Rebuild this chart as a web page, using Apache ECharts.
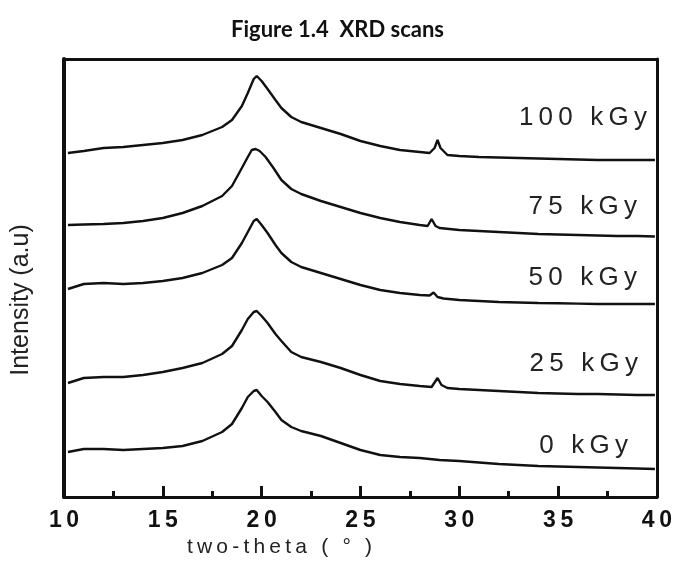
<!DOCTYPE html>
<html>
<head>
<meta charset="utf-8">
<title>XRD scans</title>
<script src="https://cdn.jsdelivr.net/npm/echarts@6.0.0/dist/echarts.min.js"></script>
<style>
  html, body { margin: 0; padding: 0; background: #fff; }
  #chart { width: 675px; height: 565px; }
</style>
</head>
<body>
<div id="chart"></div>
<script>
// two-theta (deg) and intensity (a.u.), one pair per dose
var theta100 = [10.2, 11, 12, 13, 14, 15, 16, 17, 18, 18.5, 19, 19.3, 19.6, 19.75, 20, 20.3, 20.7, 21, 21.5, 22, 23, 24, 25, 26, 27, 28, 28.5, 28.75, 28.9, 29.05, 29.4, 30, 31, 32, 33, 34, 35, 36, 37, 38, 39, 39.9];
var int100 = [344, 346, 349, 350, 352, 354, 357, 362, 370, 377, 391, 404, 418, 421, 416, 408, 397, 389, 380, 375, 369, 363, 356, 351, 347, 345, 344, 349, 357, 349, 342, 341, 340, 339.5, 339, 338.5, 338, 337.5, 337, 337, 337, 337];

var theta75 = [10.2, 11, 12, 13, 14, 15, 16, 17, 18, 18.5, 19, 19.3, 19.5, 19.7, 19.9, 20.2, 20.6, 21, 21.5, 22, 23, 24, 25, 26, 27, 28, 28.4, 28.6, 28.8, 29, 30, 31, 32, 33, 34, 35, 36, 37, 38, 39, 39.9];
var int75 = [272, 272.5, 273, 274, 276, 279, 284, 291, 301, 311, 329, 340, 347, 348, 346, 340, 329, 317, 308, 303, 296, 290, 284, 279, 275, 272, 271, 278, 271, 269, 267, 266, 265, 264, 263, 262.5, 262, 261.5, 261, 261, 260.5];

var theta50 = [10.2, 11, 12, 13, 14, 15, 16, 17, 18, 18.5, 19, 19.3, 19.6, 19.75, 20, 20.3, 20.7, 21, 21.5, 22, 23, 24, 25, 26, 27, 28, 28.5, 28.7, 28.9, 29.2, 30, 31, 32, 33, 34, 35, 36, 37, 38, 39, 39.9];
var int50 = [208, 213, 214, 213, 214, 216, 219, 224, 232, 239, 254, 265, 276, 278, 272, 264, 252, 244, 235, 230, 224, 218, 212, 207, 204, 202, 201.5, 204.5, 200, 198.5, 197, 196, 195, 194.5, 194, 193.7, 193.4, 193, 193, 193, 193];

var theta25 = [10.2, 11, 12, 13, 14, 15, 16, 17, 18, 18.5, 19, 19.3, 19.6, 19.75, 20, 20.3, 20.7, 21, 21.5, 22, 23, 24, 25, 26, 27, 28, 28.6, 28.9, 29.1, 29.4, 30, 31, 32, 33, 34, 35, 36, 37, 38, 39, 39.9];
var int25 = [114, 119, 120, 120, 122, 125, 129, 134, 143, 151, 167, 178, 185, 186, 181, 174, 163, 156, 145, 140, 135, 129, 122, 116, 113, 111, 110, 119, 112, 109, 108, 107, 106, 105, 104, 103.5, 103, 103, 102.5, 102, 102];

var theta0 = [10.2, 11, 12, 13, 14, 15, 16, 17, 18, 18.5, 19, 19.3, 19.6, 19.75, 20, 20.3, 20.7, 21, 21.5, 22, 23, 24, 25, 26, 27, 28, 29, 30, 31, 32, 33, 34, 35, 36, 37, 38, 39, 39.9];
var int0 = [45, 48, 48, 47, 48, 49, 51, 56, 65, 73, 89, 100, 106, 107, 101, 95, 85, 77, 70, 66, 61, 54, 47, 42, 40, 39, 37, 36, 34.5, 33, 32, 31, 30.5, 30, 29.5, 29, 28.5, 28];

var doseLabels = ["100 kGy", "75 kGy", "50 kGy", "25 kGy", "0 kGy"];

// wide letter spacing of the original figure
function spaced(s) {
  return String(s).split("").join("\u2009");
}

function pairs(xs, ys) {
  return xs.map(function (x, i) {
    return [x, ys[i]];
  });
}

var scans = [
  pairs(theta100, int100),
  pairs(theta75, int75),
  pairs(theta50, int50),
  pairs(theta25, int25),
  pairs(theta0, int0)
];

var chart = echarts.init(document.getElementById("chart"));

var lineStyle = { color: "#111", width: 2.4 };

var labelPos = [
  [647, 118],
  [637, 207],
  [637, 278],
  [638, 364],
  [628, 446]
];

var noAxisBits = {
  axisTick: { show: false },
  axisLabel: { show: false },
  splitLine: { show: false }
};

chart.setOption({
  animation: false,
  backgroundColor: "#fff",
  title: {
    text: "Figure 1.4  XRD scans",
    left: "center",
    top: 14,
    textStyle: {
      fontFamily: "Lato",
      fontWeight: "bold",
      fontSize: 22,
      color: "#111"
    }
  },
  grid: {
    left: 64,
    right: 18,
    top: 59,
    bottom: 68
  },
  xAxis: [
    {
      type: "value",
      min: 10,
      max: 40,
      interval: 5,
      name: spaced("two-theta ( ° )"),
      nameLocation: "middle",
      nameGap: 36,
      nameTextStyle: {
        fontFamily: "Liberation Sans",
        fontSize: 21,
        color: "#222",
        padding: [0, 162, 0, 0]
      },
      axisLine: { onZero: false, lineStyle: { color: "#111", width: 3 } },
      axisTick: { inside: true, length: 11, lineStyle: { color: "#111", width: 3 } },
      minorTick: { show: true, splitNumber: 2, length: 6, lineStyle: { color: "#111", width: 3 } },
      splitLine: { show: false },
      axisLabel: {
        margin: 12,
        fontFamily: "Liberation Sans",
        fontWeight: "bold",
        fontSize: 23,
        color: "#111",
        formatter: function (v) {
          return spaced(v);
        }
      }
    },
    Object.assign({
      type: "value",
      position: "top",
      min: 10,
      max: 40,
      axisLine: { show: true, onZero: false, lineStyle: { color: "#111", width: 3 } }
    }, noAxisBits)
  ],
  yAxis: [
    Object.assign({
      type: "value",
      min: 0,
      max: 438,
      name: "Intensity (a.u)",
      nameLocation: "middle",
      nameGap: 30,
      nameTextStyle: {
        fontFamily: "Liberation Sans",
        fontSize: 25,
        color: "#222",
        padding: [0, 44, 0, 0]
      },
      axisLine: { show: true, onZero: false, lineStyle: { color: "#111", width: 4 } }
    }, noAxisBits),
    Object.assign({
      type: "value",
      position: "right",
      min: 0,
      max: 438,
      axisLine: { show: true, onZero: false, lineStyle: { color: "#111", width: 3 } }
    }, noAxisBits)
  ],
  graphic: doseLabels.map(function (t, i) {
    return {
      type: "text",
      x: labelPos[i][0],
      y: labelPos[i][1],
      style: {
        text: spaced(t),
        fontFamily: "Liberation Sans",
        fontSize: 26,
        fill: "#222",
        align: "right",
        verticalAlign: "middle"
      }
    };
  }),
  series: scans.map(function (d, i) {
    return {
      name: doseLabels[i],
      type: "line",
      xAxisIndex: 0,
      yAxisIndex: 0,
      symbol: "none",
      lineStyle: lineStyle,
      data: d
    };
  }).concat([
    // empty series so the top axis is laid out and drawn
    { type: "line", xAxisIndex: 1, yAxisIndex: 1, data: [], silent: true }
  ])
});

window.addEventListener("resize", function () {
  chart.resize();
});
</script>
</body>
</html>
